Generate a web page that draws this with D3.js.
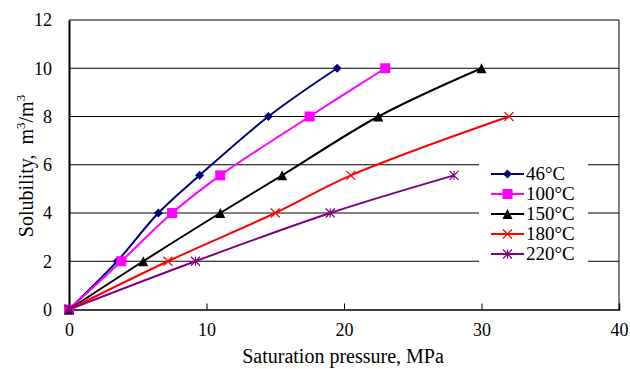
<!doctype html>
<html lang="en">
<head>
<meta charset="utf-8" />
<title>Solubility vs saturation pressure</title>
<script src="https://cdn.jsdelivr.net/npm/d3@7"></script>
<style>
  body { margin: 0; background: #fff; }
  svg text { font-family: "Liberation Serif", "Times New Roman", serif; fill: #000; }
</style>
</head>
<body>
<script>
// data
var seriesNames = ["46\u00B0C", "100\u00B0C", "150\u00B0C", "180\u00B0C", "220\u00B0C"];
var pressure46  = [0, 3.5, 6.5, 9.5, 14.5, 19.5];
var solub46     = [0, 2, 4, 5.56, 8, 10];
var pressure100 = [0, 3.8, 7.5, 11, 17.5, 23];
var solub100    = [0, 2, 4, 5.56, 8, 10];
var pressure150 = [0, 5.4, 11, 15.5, 22.5, 30];
var solub150    = [0, 2, 4, 5.56, 8, 10];
var pressure180 = [0, 7.2, 15, 20.5, 32];
var solub180    = [0, 2, 4, 5.56, 8];
var pressure220 = [0, 9.2, 19, 28];
var solub220    = [0, 2, 4, 5.56];
var xTicks = [0, 10, 20, 30, 40];
var yTicks = [0, 2, 4, 6, 8, 10, 12];

var colors = ["#000080", "#ff00ff", "#000000", "#ff0000", "#800080"];
var shapes = ["diamond", "square", "triangle", "cross", "star"];

var series = [
  { name: seriesNames[0], xs: pressure46,  ys: solub46 },
  { name: seriesNames[1], xs: pressure100, ys: solub100 },
  { name: seriesNames[2], xs: pressure150, ys: solub150 },
  { name: seriesNames[3], xs: pressure180, ys: solub180 },
  { name: seriesNames[4], xs: pressure220, ys: solub220 }
];

var w = 630, h = 369;
var plotL = 69, plotR = 619, plotT = 20, plotB = 309.5;

var x = d3.scaleLinear().domain([0, 40]).range([plotL, plotR]);
var y = d3.scaleLinear().domain([0, 12]).range([plotB, plotT]);

var svg = d3.select("body").append("svg")
  .attr("width", w).attr("height", h);

// gridlines
svg.append("g").selectAll("line")
  .data(yTicks.filter(function(d) { return d > 0; }))
  .enter().append("line")
  .attr("x1", plotL).attr("x2", plotR)
  .attr("y1", function(d) { return y(d); })
  .attr("y2", function(d) { return y(d); })
  .attr("stroke", "#000").attr("stroke-width", 1);

// right border
svg.append("line")
  .attr("x1", plotR).attr("x2", plotR).attr("y1", plotT).attr("y2", plotB)
  .attr("stroke", "#000").attr("stroke-width", 1);

// axes
var xAxis = d3.axisBottom(x).tickValues(xTicks).tickSize(-6).tickPadding(14).tickFormat(d3.format("d"));
var gx = svg.append("g").attr("transform", "translate(0," + plotB + ")").call(xAxis);
gx.select(".domain").attr("stroke", "#000").attr("stroke-width", 1.5);
gx.selectAll(".tick line").attr("stroke", "#000");
gx.selectAll("text").attr("font-size", "18px").attr("font-family", "Liberation Serif").attr("fill", "#000");

var yAxis = d3.axisLeft(y).tickValues(yTicks).tickSize(0).tickPadding(17).tickFormat(d3.format("d"));
var gy = svg.append("g").attr("transform", "translate(" + plotL + ",0)").call(yAxis);
gy.select(".domain").attr("stroke", "#000").attr("stroke-width", 2);
gy.selectAll("text").attr("font-size", "18px").attr("font-family", "Liberation Serif").attr("fill", "#000");

// lines + markers
var line = d3.line()
  .x(function(d) { return x(d[0]); })
  .y(function(d) { return y(d[1]); })
  .curve(d3.curveCatmullRom.alpha(0.5));

function drawMarker(g, shape, color, size) {
  var s = size / 2;
  if (shape === "diamond") {
    g.append("path").attr("d", "M0," + (-s) + "L" + s + ",0L0," + s + "L" + (-s) + ",0Z").attr("fill", color);
  } else if (shape === "square") {
    g.append("rect").attr("x", -s).attr("y", -s).attr("width", size).attr("height", size).attr("fill", color);
  } else if (shape === "triangle") {
    g.append("path").attr("d", "M0," + (-s) + "L" + s + "," + s + "L" + (-s) + "," + s + "Z").attr("fill", color);
  } else if (shape === "cross") {
    g.append("path").attr("d", "M" + (-s) + "," + (-s) + "L" + s + "," + s + "M" + s + "," + (-s) + "L" + (-s) + "," + s)
      .attr("stroke", color).attr("stroke-width", 1.2).attr("fill", "none");
  } else {
    g.append("path").attr("d", "M" + (-s) + "," + (-s) + "L" + s + "," + s + "M" + s + "," + (-s) + "L" + (-s) + "," + s + "M0," + (-s) + "L0," + s)
      .attr("stroke", color).attr("stroke-width", 1.2).attr("fill", "none");
  }
}
var markerSizes = [9, 10, 10, 9, 9];

series.forEach(function(s, i) {
  var pts = s.xs.map(function(v, j) { return [v, s.ys[j]]; });
  svg.append("path").datum(pts)
    .attr("d", line)
    .attr("fill", "none")
    .attr("stroke", colors[i])
    .attr("stroke-width", 2);
  s.xs.forEach(function(v, j) {
    var g = svg.append("g").attr("transform", "translate(" + x(v) + "," + y(s.ys[j]) + ")");
    drawMarker(g, shapes[i], colors[i], markerSizes[i]);
  });
});

// legend
var lg = svg.append("g").attr("transform", "translate(479,160)");
lg.append("rect").attr("x", 0).attr("y", 0).attr("width", 109).attr("height", 106).attr("fill", "#fff");
series.forEach(function(s, i) {
  var yy = 14 + i * 20;
  lg.append("line").attr("x1", 12).attr("x2", 45).attr("y1", yy).attr("y2", yy)
    .attr("stroke", colors[i]).attr("stroke-width", 2);
  var g = lg.append("g").attr("transform", "translate(28.5," + yy + ")");
  drawMarker(g, shapes[i], colors[i], markerSizes[i]);
  lg.append("text").attr("x", 47).attr("y", yy + 6).attr("font-size", "19px").text(s.name);
});

// axis titles
svg.append("text")
  .attr("x", 343).attr("y", 363)
  .attr("text-anchor", "middle").attr("font-size", "20px")
  .text("Saturation pressure, MPa");

var yt = svg.append("text")
  .attr("transform", "translate(33,166) rotate(-90)")
  .attr("text-anchor", "middle").attr("font-size", "20px");
yt.append("tspan").text("Solubility,\u00A0\u00A0m");
yt.append("tspan").attr("font-size", "13px").attr("dy", -8).text("3");
yt.append("tspan").attr("dy", 8).text("/m");
yt.append("tspan").attr("font-size", "13px").attr("dy", -8).text("3");
</script>
</body>
</html>
